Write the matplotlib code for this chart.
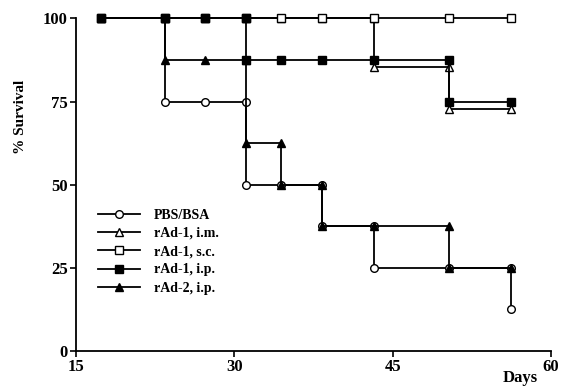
#! -*- coding: utf-8 -*-
import matplotlib
matplotlib.use('Agg')
import matplotlib.pyplot as plt

#---------------------------------
# データ (生存曲線: 落ち込む日は x を2回並べる)
#---------------------------------
PBS_X = [17.4, 23.4, 23.4, 27.2, 31.1, 31.1, 34.4, 38.3, 38.3, 43.2, 43.2, 50.3, 56.2, 56.2]
PBS_Y = [100, 100, 75, 75, 75, 50, 50, 50, 37.5, 37.5, 25, 25, 25, 12.5]

IM_X = [17.4, 23.4, 27.2, 31.1, 34.4, 38.3, 43.2, 43.2, 50.3, 50.3, 56.2]
IM_Y = [100, 100, 100, 100, 100, 100, 100, 85.3, 85.3, 72.8, 72.8]

SC_X = [17.4, 23.4, 27.2, 31.1, 34.4, 38.3, 43.2, 50.3, 56.2]
SC_Y = [100, 100, 100, 100, 100, 100, 100, 100, 100]

IP1_X = [17.4, 23.4, 27.2, 31.1, 31.1, 34.4, 38.3, 43.2, 50.3, 50.3, 56.2]
IP1_Y = [100, 100, 100, 100, 87.5, 87.5, 87.5, 87.5, 87.5, 75, 75]

IP2_X = [17.4, 23.4, 23.4, 27.2, 31.1, 31.1, 34.4, 34.4, 38.3, 38.3, 43.2, 50.3, 50.3, 56.2]
IP2_Y = [100, 100, 87.5, 87.5, 87.5, 62.5, 62.5, 50, 50, 37.5, 37.5, 37.5, 25, 25]

LABELS = ['PBS/BSA', 'rAd-1, i.m.', 'rAd-1, s.c.', 'rAd-1, i.p.', 'rAd-2, i.p.']
X_TICKS = [15, 30, 45, 60]
Y_TICKS = [0, 25, 50, 75, 100]

#---------------------------------
# 描画
#---------------------------------
def main():
    plt.rcParams['font.family'] = ['Liberation Serif', 'DejaVu Serif']
    plt.rcParams['font.weight'] = 'bold'

    fig = plt.figure(figsize=(5.62, 3.88), dpi=100)
    ax = fig.add_axes([0.1352, 0.0954, 0.845, 0.857])

    # --- 各系列 ---
    series = [
        (PBS_X, PBS_Y, 'o', 'white'),
        (IM_X, IM_Y, '^', 'white'),
        (SC_X, SC_Y, 's', 'white'),
        (IP1_X, IP1_Y, 's', 'black'),
        (IP2_X, IP2_Y, '^', 'black'),
    ]
    for cnt, (x, y, m, fc) in enumerate(series):
        ax.plot(x, y, color='black', lw=1.3, marker=m, markersize=5.5,
                markerfacecolor=fc, markeredgecolor='black', markeredgewidth=1.0,
                label=LABELS[cnt], clip_on=False, zorder=3 + cnt)

    # --- 軸設定 ---
    ax.set_xlim(15, 60)
    ax.set_ylim(0, 100)
    ax.set_xticks(X_TICKS)
    ax.set_yticks(Y_TICKS)
    ax.spines['top'].set_visible(False)
    ax.spines['right'].set_visible(False)
    ax.spines['left'].set_linewidth(1.3)
    ax.spines['bottom'].set_linewidth(1.3)
    ax.tick_params(direction='out', length=4, width=1.2, labelsize=12, pad=2)
    for lbl in ax.get_xticklabels() + ax.get_yticklabels():
        lbl.set_fontweight('bold')

    fig.text(0.036, 0.70, '% Survival', rotation=90, ha='center', va='center',
             fontsize=11, fontweight='bold')
    fig.text(0.926, 0.025, 'Days', ha='center', va='center',
             fontsize=12, fontweight='bold')

    # --- 凡例 ---
    leg = ax.legend(loc='upper left', bbox_to_anchor=(0.035, 0.445), frameon=False,
                    fontsize=10, handlelength=3.0, handletextpad=1.0,
                    labelspacing=0.38, borderaxespad=0)
    for t in leg.get_texts():
        t.set_fontweight('bold')

    fig.savefig('out.png', dpi=100)
    plt.close(fig)

if __name__ == '__main__':
    main()
